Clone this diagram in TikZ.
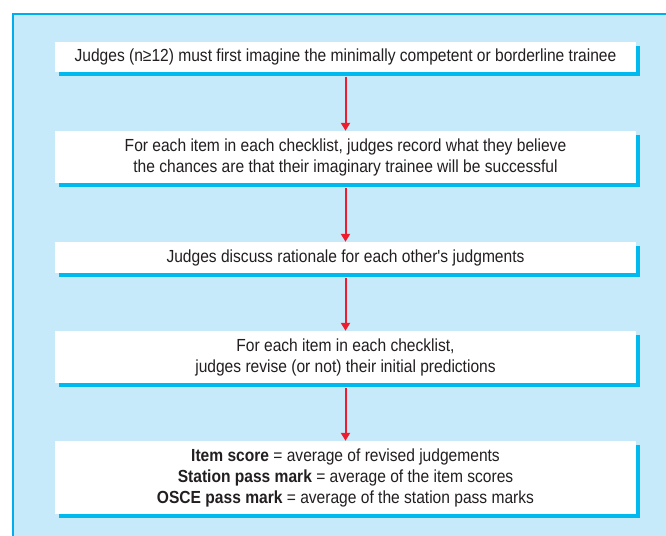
\documentclass[tikz,border=0pt]{standalone}
\usepackage{fontspec}
\setmainfont{Liberation Sans}[FakeStretch=0.89, Ligatures=TeXOff]
\usetikzlibrary{arrows.meta,shadows}
\definecolor{framecyan}{HTML}{00AEEF}
\definecolor{panelblue}{HTML}{C7EAFA}
\definecolor{shadowcyan}{HTML}{00B9EE}
\definecolor{arrowred}{HTML}{EE1C2E}
\definecolor{textgray}{HTML}{231F20}
\tikzset{
  stepbox/.style={fill=white, draw=none, text=textgray, minimum width=581pt, inner sep=0pt,
    align=center, font=\fontsize{17.5}{21}\selectfont,
    drop shadow={shadow xshift=4pt, shadow yshift=-4pt, fill=shadowcyan, opacity=1}},
  flowarrow/.style={draw=arrowred, line width=2pt, -{Triangle[length=8pt,width=9pt]}, shorten <=4.5pt}
}
\begin{document}
\begin{tikzpicture}[x=1pt,y=-1pt]
\useasboundingbox (0,0) rectangle (666,535);
\clip (0,0) rectangle (666,535);
\fill[white] (0,0) rectangle (666,535);
\draw[framecyan, fill=panelblue, line width=1.2pt] (13,14) rectangle (680,550);
\node[stepbox, minimum height=30pt] (b1) at (345.5,57) {Judges (n≥12) must first imagine the minimally competent or borderline trainee};
\node[stepbox, minimum height=52pt] (b2) at (345.5,157) {For each item in each checklist, judges record what they believe\\the chances are that their imaginary trainee will be successful};
\node[stepbox, minimum height=31pt] (b3) at (345.5,257.5) {Judges discuss rationale for each other's judgments};
\node[stepbox, minimum height=52pt] (b4) at (345.5,357) {For each item in each checklist,\\judges revise (or not) their initial predictions};
\node[stepbox, minimum height=73pt] (b5) at (345.5,477.5) {\textbf{Item score} = average of revised judgements\\\textbf{Station pass mark} = average of the item scores\\\textbf{OSCE pass mark} = average of the station pass marks};
\draw[flowarrow] (b1.south) -- (b2.north);
\draw[flowarrow] (b2.south) -- (b3.north);
\draw[flowarrow] (b3.south) -- (b4.north);
\draw[flowarrow] (b4.south) -- (b5.north);
\end{tikzpicture}
\end{document}
